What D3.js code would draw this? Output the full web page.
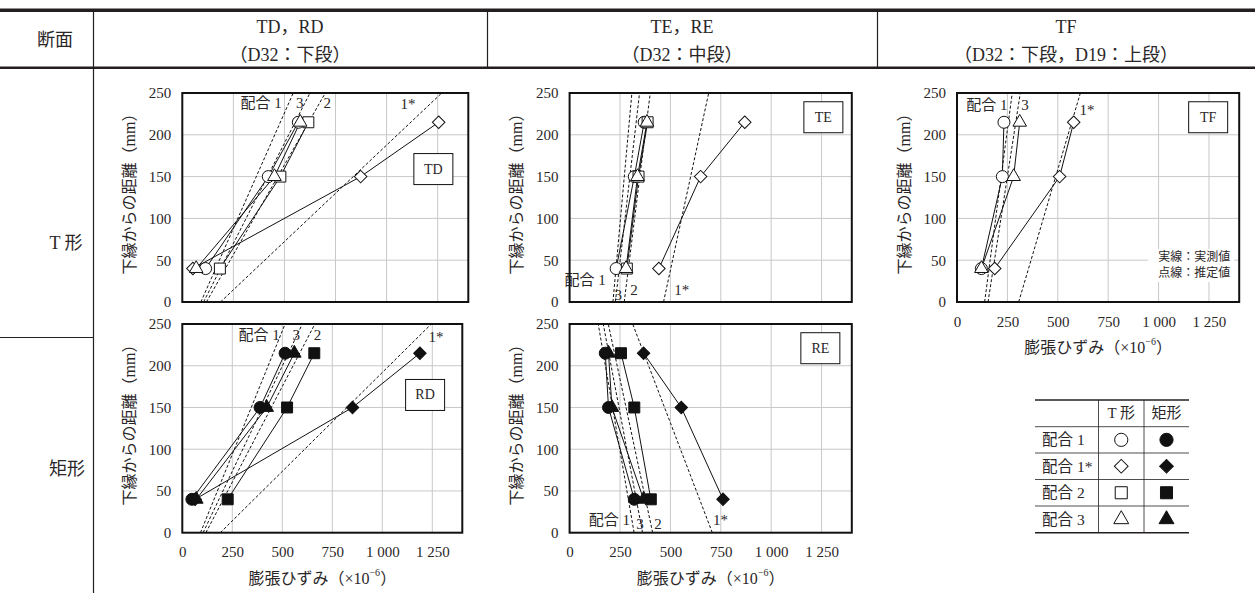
<!DOCTYPE html>
<html>
<head>
<meta charset="utf-8">
<script src="https://cdn.jsdelivr.net/npm/d3@7"></script>
<style>
  body { margin: 0; background: #fff; }
  svg text { font-family: "Liberation Serif", "Noto Sans CJK JP", serif; fill: #2a2627; }
</style>
</head>
<body>
<svg id="chart" width="1255" height="593"></svg>
<script>
// depths (mm from bottom edge) of the measured points
const depths = [40, 150, 215]
// the estimated (dashed) lines are given at the bottom and the top of the axis
const estDepths = [0, 250]
const mixes = ['配合 1', '配合 1*', '配合 2', '配合 3']
const xTicks = [0, 250, 500, 750, 1000, 1250]
const yTicks = [0, 50, 100, 150, 200, 250]

// strain (x10^-6), order of mixes: 1, 1*, 2, 3
const tdMeasured = [[114, 421, 568], [52, 873, 1255], [184, 480, 617], [68, 451, 577]]
const tdEstimated = [[91, 543], [187, 1270], [118, 700], [104, 625]]

const rdMeasured = [[48, 389, 514], [64, 851, 1188], [227, 524, 660], [70, 422, 560]]
const rdEstimated = [[91, 514], [190, 1245], [118, 663], [104, 600]]

const teMeasured = [[231, 321, 370], [443, 650, 869], [284, 342, 387], [280, 337, 384]]
const teEstimated = [[215, 309], [466, 690], [271, 400], [227, 347]]

const reMeasured = [[321, 193, 177], [761, 554, 367], [403, 321, 255], [367, 210, 193]]
const reEstimated = [[320, 142], [708, 313], [412, 192], [362, 167]]

const tfMeasured = [[121, 225, 233], [187, 509, 579], null, [121, 281, 311]]
const tfEstimated = [[137, 274], [306, 612], null, [154, 314]]

const svg = d3.select('#chart')

function marker(sel, i, filled, size) {
    const s = size || 1
    const fill = filled ? '#111' : '#fff'
    if (i === 0) {
        sel.append('circle').attr('r', 6 * s)
            .attr('fill', fill).attr('stroke', '#111').attr('stroke-width', 1)
    } else if (i === 1) {
        sel.append('path').attr('d', d3.symbol(d3.symbolSquare, 78 * s * s)())
            .attr('transform', 'rotate(45)')
            .attr('fill', fill).attr('stroke', '#111').attr('stroke-width', 1)
    } else if (i === 2) {
        sel.append('path').attr('d', d3.symbol(d3.symbolSquare, 120 * s * s)())
            .attr('fill', fill).attr('stroke', '#111').attr('stroke-width', 1)
    } else {
        sel.append('path').attr('d', d3.symbol(d3.symbolTriangle, 80 * s * s)())
            .attr('fill', fill).attr('stroke', '#111').attr('stroke-width', 1)
    }
}

class StrainPanel {

    constructor(_config, _measured, _estimated) {
        this.config = {
            left: _config.left,
            top: _config.top,
            bottom: _config.bottom,
            plotWidth: _config.plotWidth || 282.2,
            xMax: _config.xMax || 1400,
            filled: _config.filled || false,
            showX: _config.showX || false,
            tag: _config.tag,
            tagAt: _config.tagAt,
            labels: _config.labels || [],
            note: _config.note || false
        }
        this.measured = _measured
        this.estimated = _estimated
        this.initVis()
    }

    initVis() {
        let vis = this
        let c = vis.config

        vis.xScale = d3.scaleLinear().domain([0, c.xMax]).range([c.left, c.left + c.plotWidth])
        vis.yScale = d3.scaleLinear().domain([0, 250]).range([c.bottom, c.top])

        vis.g = svg.append('g')

        // grid
        vis.g.append('g').selectAll('line.vx')
            .data(xTicks.slice(1))
            .join('line')
                .attr('x1', d => vis.xScale(d)).attr('x2', d => vis.xScale(d))
                .attr('y1', c.top).attr('y2', c.bottom)
                .attr('stroke', '#c8c8c8').attr('stroke-width', 1)
        vis.g.append('g').selectAll('line.hy')
            .data(yTicks.slice(1, -1))
            .join('line')
                .attr('y1', d => vis.yScale(d)).attr('y2', d => vis.yScale(d))
                .attr('x1', c.left).attr('x2', c.left + c.plotWidth)
                .attr('stroke', '#c8c8c8').attr('stroke-width', 1)

        vis.yAxis = d3.axisLeft(vis.yScale).tickValues(yTicks).tickSize(0).tickPadding(11)
        vis.g.append('g')
            .attr('transform', `translate(${c.left},0)`)
            .call(vis.yAxis)
            .call(g => g.select('.domain').remove())
            .selectAll('text')
                .attr('font-size', 15)
                .attr('font-family', '"Liberation Serif", serif')
                .attr('fill', '#2a2627')

        vis.g.append('text')
            .attr('transform', `translate(${c.left - 53},${c.top + 97}) rotate(-90)`)
            .attr('text-anchor', 'middle')
            .attr('dominant-baseline', 'central')
            .attr('font-size', 16)
            .text('下縁からの距離（mm）')

        if (c.showX) {
            vis.xAxis = d3.axisBottom(vis.xScale).tickValues(xTicks).tickSize(0).tickPadding(14)
                .tickFormat(d => d >= 1000 ? d3.format(',')(d).replace(',', '\u00a0') : d)
            vis.g.append('g')
                .attr('transform', `translate(0,${c.bottom})`)
                .call(vis.xAxis)
                .call(g => g.select('.domain').remove())
                .selectAll('text')
                    .attr('font-size', 15)
                    .attr('font-family', '"Liberation Serif", serif')
                    .attr('fill', '#2a2627')

            let title = vis.g.append('text')
                .attr('x', c.left + c.plotWidth / 2)
                .attr('y', c.bottom + 45)
                .attr('text-anchor', 'middle')
                .attr('dominant-baseline', 'central')
                .attr('font-size', 16)
            title.append('tspan').text('膨張ひずみ（×10')
            title.append('tspan').attr('font-size', 10).attr('dy', -6).text('−6')
            title.append('tspan').attr('dy', 6).text('）')
        }
    }

    renderVis() {
        let vis = this
        let c = vis.config

        // estimated lines (dashed)
        let estLine = d3.line()
            .x(d => vis.xScale(d[0]))
            .y(d => vis.yScale(d[1]))
        vis.g.append('g').selectAll('path')
            .data(vis.estimated.filter(d => d))
            .join('path')
                .attr('d', d => estLine(d.map((v, i) => [v, estDepths[i]])))
                .attr('fill', 'none')
                .attr('stroke', '#111')
                .attr('stroke-width', 1)
                .attr('stroke-dasharray', '3,2')

        // measured lines
        vis.g.append('g').selectAll('path')
            .data(vis.measured.filter(d => d))
            .join('path')
                .attr('d', d => estLine(d.map((v, i) => [v, depths[i]])))
                .attr('fill', 'none')
                .attr('stroke', '#111')
                .attr('stroke-width', 1)

        // markers
        vis.measured.forEach((series, i) => {
            if (!series) return
            series.forEach((v, j) => {
                let m = vis.g.append('g')
                    .attr('transform', `translate(${vis.xScale(v)},${vis.yScale(depths[j])})`)
                marker(m, i, c.filled)
            })
        })

        // labels on the dashed lines
        vis.g.append('g').selectAll('text')
            .data(c.labels)
            .join('text')
                .attr('x', d => vis.xScale(d.x))
                .attr('y', d => vis.yScale(d.y))
                .attr('text-anchor', d => d.anchor || 'middle')
                .attr('dominant-baseline', 'central')
                .attr('font-size', 15)
                .text(d => d.text)

        // tag box
        let tx = vis.xScale(c.tagAt[0]), ty = vis.yScale(c.tagAt[1])
        vis.g.append('rect')
            .attr('x', tx - 19.5).attr('y', ty - 15.5)
            .attr('width', 39).attr('height', 31)
            .attr('fill', '#fff').attr('stroke', '#111').attr('stroke-width', 1)
        vis.g.append('text')
            .attr('x', tx).attr('y', ty)
            .attr('text-anchor', 'middle').attr('dominant-baseline', 'central')
            .attr('font-size', 14)
            .text(c.tag)

        if (c.note) {
            let right = c.left + c.plotWidth - 9
            vis.g.append('rect')
                .attr('x', right - 82).attr('y', c.bottom - 53)
                .attr('width', 86).attr('height', 33)
                .attr('fill', '#fff')
            vis.g.selectAll('text.note')
                .data(['実線：実測値', '点線：推定値'])
                .join('text')
                    .attr('x', right)
                    .attr('y', (d, i) => c.bottom - 45 + i * 15.5)
                    .attr('text-anchor', 'end')
                    .attr('dominant-baseline', 'central')
                    .attr('font-size', 12)
                    .text(d => d)
        }

        // plot border
        vis.g.append('rect')
            .attr('x', c.left).attr('y', c.top)
            .attr('width', c.plotWidth).attr('height', c.bottom - c.top)
            .attr('fill', 'none').attr('stroke', '#111').attr('stroke-width', 2)
    }
}

// ---- frame and headings ----
svg.append('rect').attr('x', 0).attr('y', 8.5).attr('width', 1255).attr('height', 3.5).attr('fill', '#231f20')
svg.append('rect').attr('x', 0).attr('y', 66.5).attr('width', 1255).attr('height', 2.5).attr('fill', '#231f20')
svg.append('line').attr('x1', 93.5).attr('x2', 93.5).attr('y1', 11).attr('y2', 593).attr('stroke', '#231f20').attr('stroke-width', 1.2)
svg.append('line').attr('x1', 487.5).attr('x2', 487.5).attr('y1', 11).attr('y2', 67).attr('stroke', '#231f20').attr('stroke-width', 1.2)
svg.append('line').attr('x1', 877.5).attr('x2', 877.5).attr('y1', 11).attr('y2', 67).attr('stroke', '#231f20').attr('stroke-width', 1.2)
svg.append('line').attr('x1', 0).attr('x2', 93.5).attr('y1', 337.5).attr('y2', 337.5).attr('stroke', '#231f20').attr('stroke-width', 1.2)

const headings = [
    { x: 55, y: 40, t: '断面' },
    { x: 290, y: 27, t: 'TD，RD' },
    { x: 290, y: 55, t: '（D32：下段）' },
    { x: 682, y: 27, t: 'TE，RE' },
    { x: 682, y: 55, t: '（D32：中段）' },
    { x: 1066, y: 27, t: 'TF' },
    { x: 1066, y: 55, t: '（D32：下段，D19：上段）' },
    { x: 66, y: 243, t: 'T 形' },
    { x: 67, y: 469, t: '矩形' }
]
svg.append('g').selectAll('text')
    .data(headings)
    .join('text')
        .attr('x', d => d.x).attr('y', d => d.y)
        .attr('text-anchor', 'middle').attr('dominant-baseline', 'central')
        .attr('font-size', 18)
        .text(d => d.t)

// ---- panels ----
const topRow = { top: 93, bottom: 302 }
const botRow = { top: 324, bottom: 532.7 }

new StrainPanel({ left: 182.3, ...topRow, plotWidth: 286, tag: 'TD', tagAt: [1229, 159],
    labels: [{ text: '配合 1', x: 487, y: 238, anchor: 'end' }, { text: '3', x: 575, y: 238 },
             { text: '2', x: 709, y: 238 }, { text: '1*', x: 1105, y: 237 }] },
    tdMeasured, tdEstimated).renderVis()

new StrainPanel({ left: 182.3, ...botRow, plotWidth: 280, filled: true, showX: true, tag: 'RD', tagAt: [1214, 165],
    labels: [{ text: '配合 1', x: 487, y: 237, anchor: 'end' }, { text: '3', x: 570, y: 237 },
             { text: '2', x: 676, y: 237 }, { text: '1*', x: 1268, y: 234 }] },
    rdMeasured, rdEstimated).renderVis()

new StrainPanel({ left: 569.6, ...topRow, tag: 'TE', tagAt: [1259, 221],
    labels: [{ text: '配合 1', x: 180, y: 26, anchor: 'end' }, { text: '3', x: 241, y: 8 },
             { text: '2', x: 320, y: 14 }, { text: '1*', x: 556, y: 14 }] },
    teMeasured, teEstimated).renderVis()

new StrainPanel({ left: 569.6, ...botRow, filled: true, showX: true, tag: 'RE', tagAt: [1244, 221],
    labels: [{ text: '配合 1', x: 300, y: 15, anchor: 'end' }, { text: '3', x: 349, y: 11 },
             { text: '2', x: 438, y: 11 }, { text: '1*', x: 748, y: 15 }] },
    reMeasured, reEstimated).renderVis()

new StrainPanel({ left: 957, ...topRow, showX: true, note: true, tag: 'TF', tagAt: [1246, 221],
    labels: [{ text: '配合 1', x: 250, y: 236, anchor: 'end' }, { text: '3', x: 337, y: 236 },
             { text: '1*', x: 645, y: 230 }] },
    tfMeasured, tfEstimated).renderVis()

// ---- legend table ----
const legendCols = ['T 形', '矩形']
const table = svg.append('g')
const tLeft = 1035, tRight = 1189, c1 = 1098.5, c2 = 1144
const rowY = [400, 426.7, 453, 479.5, 506, 532.7]
table.selectAll('line.h')
    .data(rowY)
    .join('line')
        .attr('x1', tLeft).attr('x2', tRight)
        .attr('y1', d => d).attr('y2', d => d)
        .attr('stroke', '#231f20')
        .attr('stroke-width', (d, i) => (i === 0 || i === rowY.length - 1) ? 1.5 : 0.8)
table.selectAll('line.v')
    .data([c1, c2])
    .join('line')
        .attr('x1', d => d).attr('x2', d => d)
        .attr('y1', rowY[0]).attr('y2', rowY[rowY.length - 1])
        .attr('stroke', '#231f20').attr('stroke-width', 0.8)
table.selectAll('text.col')
    .data(legendCols)
    .join('text')
        .attr('x', (d, i) => i === 0 ? (c1 + c2) / 2 : (c2 + tRight) / 2)
        .attr('y', (rowY[0] + rowY[1]) / 2)
        .attr('text-anchor', 'middle').attr('dominant-baseline', 'central')
        .attr('font-size', 15)
        .text(d => d)
mixes.forEach((m, i) => {
    let cy = (rowY[i + 1] + rowY[i + 2]) / 2
    table.append('text')
        .attr('x', tLeft + 7).attr('y', cy)
        .attr('dominant-baseline', 'central')
        .attr('font-size', 15.5)
        .text(m)
    marker(table.append('g').attr('transform', `translate(${(c1 + c2) / 2},${cy})`), i, false, 1.1)
    marker(table.append('g').attr('transform', `translate(${(c2 + tRight) / 2},${cy})`), i, true, 1.1)
})
</script>
</body>
</html>
